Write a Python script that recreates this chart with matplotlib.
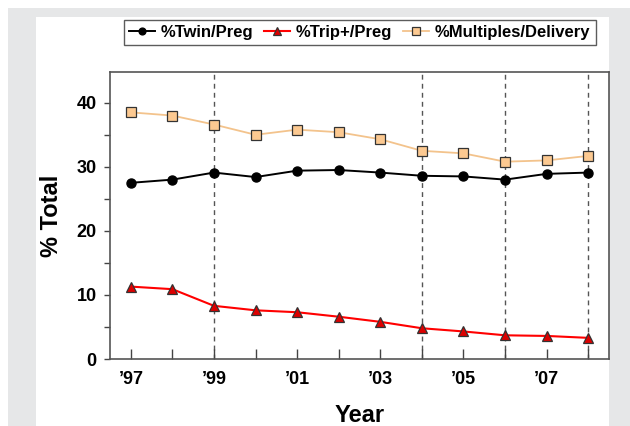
import matplotlib
matplotlib.use("Agg")
import matplotlib.pyplot as plt
from matplotlib.patches import Rectangle
from matplotlib.ticker import MultipleLocator

years = [1997, 1998, 1999, 2000, 2001, 2002, 2003, 2004, 2005, 2006, 2007, 2008]
twin_preg = [27.5, 28.0, 29.1, 28.4, 29.4, 29.5, 29.1, 28.6, 28.5, 28.0, 28.9, 29.1]
trip_preg = [11.3, 10.9, 8.3, 7.6, 7.3, 6.6, 5.8, 4.8, 4.3, 3.7, 3.6, 3.3]
mult_deliv = [38.5, 38.0, 36.6, 35.0, 35.8, 35.4, 34.3, 32.5, 32.1, 30.8, 31.0, 31.7]
label_years = [1997, 1999, 2001, 2003, 2005, 2007]
label_texts = ["\u201997", "\u201999", "\u201901", "\u201903", "\u201905", "\u201907"]
dashed_years = [1999, 2004, 2006, 2008]
series_names = ["%Twin/Preg", "%Trip+/Preg", "%Multiples/Delivery"]

plt.rcParams['font.family'] = ['Liberation Sans', 'DejaVu Sans']
plt.rcParams['font.weight'] = 'bold'

W, H = 630, 426
fig = plt.figure(figsize=(6.3, 4.26), dpi=100)
fig.patch.set_facecolor('white')
# gray frame and white panel
fig.patches.append(Rectangle((8 / W, 0), 1 - 8 / W, 1 - 8 / H, transform=fig.transFigure,
                             facecolor='#e6e7e8', edgecolor='none', zorder=-10))
fig.patches.append(Rectangle((36 / W, 0), (609 - 36) / W, 1 - 17 / H, transform=fig.transFigure,
                             facecolor='white', edgecolor='none', zorder=-9))

ax = fig.add_axes([110 / W, (H - 359) / H, (609 - 110) / W, (359 - 72) / H])
ax.set_facecolor('white')

for yr in dashed_years:
    ax.axvline(yr, color='#555555', lw=1.0, ls=(0, (3.5, 3)), zorder=1)

ax.plot(years, mult_deliv, color='#f3c38c', lw=1.3, marker='s', ms=7,
        mfc='#fcc991', mec='#333333', mew=0.9, zorder=3, label=series_names[2])
ax.plot(years, twin_preg, color='black', lw=1.4, marker='o', ms=6.5,
        mfc='black', mec='black', zorder=4, label=series_names[0])
ax.plot(years, trip_preg, color='#ff0000', lw=1.5, marker='^', ms=7.5,
        mfc='#dd0000', mec='#333333', mew=0.9, zorder=4, label=series_names[1])

ax.set_xlim(1996.5, 2008.5)
ax.set_ylim(0, 44.8)
ax.yaxis.set_major_locator(MultipleLocator(10))
ax.yaxis.set_minor_locator(MultipleLocator(5))
ax.set_xticks(years)
ax.set_xticklabels([label_texts[label_years.index(y)] if y in label_years else "" for y in years])

ax.tick_params(axis='y', which='both', direction='out', length=4.5, width=1, color='#444444',
               labelsize=13, pad=5)
ax.tick_params(axis='x', which='major', direction='in', length=7, width=1, color='#444444',
               labelsize=13, pad=9)
for lab in ax.get_xticklabels() + ax.get_yticklabels():
    lab.set_fontweight('bold')

for s in ax.spines.values():
    s.set_color('#555555')
    s.set_linewidth(1.2)

ax.set_ylabel('% Total', fontsize=17, fontweight='bold', labelpad=10)
ax.set_xlabel('Year', fontsize=17, fontweight='bold', labelpad=11)

handles, labels = ax.get_legend_handles_labels()
order = [1, 2, 0]
leg = fig.legend([handles[i] for i in order], [labels[i] for i in order],
                 loc='center', bbox_to_anchor=((122 + 597) / 2 / W, 1 - 32 / H),
                 ncol=3, frameon=True, fancybox=False,
                 handlelength=1.6, handletextpad=0.35, columnspacing=0.6,
                 borderpad=0.3, borderaxespad=0, markerscale=0.75,
                 prop={'weight': 'bold', 'size': 12})
leg.get_frame().set_edgecolor('#333333')
leg.get_frame().set_linewidth(1.0)

fig.savefig('out.png', dpi=100, facecolor=fig.get_facecolor())
